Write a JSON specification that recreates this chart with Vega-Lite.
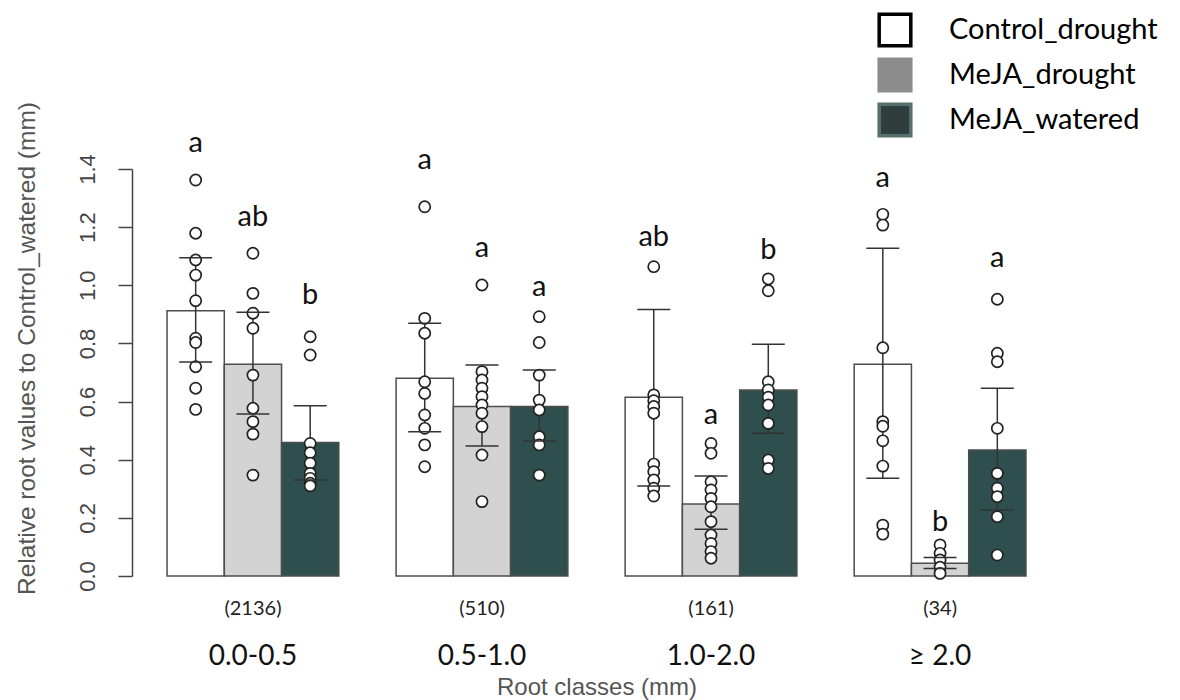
{
  "$schema": "https://vega.github.io/schema/vega-lite/v6.json",
  "width": 929,
  "height": 407,
  "autosize": {"type": "none"},
  "padding": {"left": 132, "top": 169, "right": 119, "bottom": 124},
  "background": "white",
  "config": {"view": {"stroke": null}, "font": "Liberation Sans"},
  "datasets": {
    "bars": [
      {"c": "0.0-0.5", "g": "Control_drought", "mean": 0.912, "lo": 0.736, "hi": 1.095, "letter": "a", "ly": 1.49},
      {"c": "0.0-0.5", "g": "MeJA_drought", "mean": 0.728, "lo": 0.557, "hi": 0.907, "letter": "ab", "ly": 1.236},
      {"c": "0.0-0.5", "g": "MeJA_watered", "mean": 0.459, "lo": 0.33, "hi": 0.586, "letter": "b", "ly": 0.967},
      {"c": "0.5-1.0", "g": "Control_drought", "mean": 0.68, "lo": 0.496, "hi": 0.869, "letter": "a", "ly": 1.43},
      {"c": "0.5-1.0", "g": "MeJA_drought", "mean": 0.583, "lo": 0.447, "hi": 0.726, "letter": "a", "ly": 1.128},
      {"c": "0.5-1.0", "g": "MeJA_watered", "mean": 0.583, "lo": 0.464, "hi": 0.709, "letter": "a", "ly": 0.995},
      {"c": "1.0-2.0", "g": "Control_drought", "mean": 0.615, "lo": 0.31, "hi": 0.917, "letter": "ab", "ly": 1.167},
      {"c": "1.0-2.0", "g": "MeJA_drought", "mean": 0.248, "lo": 0.161, "hi": 0.344, "letter": "a", "ly": 0.554},
      {"c": "1.0-2.0", "g": "MeJA_watered", "mean": 0.64, "lo": 0.491, "hi": 0.797, "letter": "b", "ly": 1.121},
      {"c": "≥ 2.0", "g": "Control_drought", "mean": 0.728, "lo": 0.336, "hi": 1.127, "letter": "a", "ly": 1.368},
      {"c": "≥ 2.0", "g": "MeJA_drought", "mean": 0.044, "lo": 0.026, "hi": 0.064, "letter": "b", "ly": 0.187},
      {"c": "≥ 2.0", "g": "MeJA_watered", "mean": 0.433, "lo": 0.227, "hi": 0.646, "letter": "a", "ly": 1.093}
    ],
    "counts": [
      {"c": "0.0-0.5", "n": "(2136)"},
      {"c": "0.5-1.0", "n": "(510)"},
      {"c": "1.0-2.0", "n": "(161)"},
      {"c": "≥ 2.0", "n": "(34)"}
    ],
    "points": [
      {"c": "0.0-0.5", "g": "Control_drought", "v": 1.362},
      {"c": "0.0-0.5", "g": "Control_drought", "v": 1.179},
      {"c": "0.0-0.5", "g": "Control_drought", "v": 1.087},
      {"c": "0.0-0.5", "g": "Control_drought", "v": 1.035},
      {"c": "0.0-0.5", "g": "Control_drought", "v": 0.947},
      {"c": "0.0-0.5", "g": "Control_drought", "v": 0.818},
      {"c": "0.0-0.5", "g": "Control_drought", "v": 0.803},
      {"c": "0.0-0.5", "g": "Control_drought", "v": 0.72},
      {"c": "0.0-0.5", "g": "Control_drought", "v": 0.646},
      {"c": "0.0-0.5", "g": "Control_drought", "v": 0.573},
      {"c": "0.0-0.5", "g": "MeJA_drought", "v": 1.11},
      {"c": "0.0-0.5", "g": "MeJA_drought", "v": 0.972},
      {"c": "0.0-0.5", "g": "MeJA_drought", "v": 0.904},
      {"c": "0.0-0.5", "g": "MeJA_drought", "v": 0.852},
      {"c": "0.0-0.5", "g": "MeJA_drought", "v": 0.691},
      {"c": "0.0-0.5", "g": "MeJA_drought", "v": 0.577},
      {"c": "0.0-0.5", "g": "MeJA_drought", "v": 0.531},
      {"c": "0.0-0.5", "g": "MeJA_drought", "v": 0.488},
      {"c": "0.0-0.5", "g": "MeJA_drought", "v": 0.347},
      {"c": "0.0-0.5", "g": "MeJA_watered", "v": 0.823},
      {"c": "0.0-0.5", "g": "MeJA_watered", "v": 0.76},
      {"c": "0.0-0.5", "g": "MeJA_watered", "v": 0.456},
      {"c": "0.0-0.5", "g": "MeJA_watered", "v": 0.424},
      {"c": "0.0-0.5", "g": "MeJA_watered", "v": 0.388},
      {"c": "0.0-0.5", "g": "MeJA_watered", "v": 0.353},
      {"c": "0.0-0.5", "g": "MeJA_watered", "v": 0.336},
      {"c": "0.0-0.5", "g": "MeJA_watered", "v": 0.319},
      {"c": "0.0-0.5", "g": "MeJA_watered", "v": 0.31},
      {"c": "0.5-1.0", "g": "Control_drought", "v": 1.27},
      {"c": "0.5-1.0", "g": "Control_drought", "v": 0.886},
      {"c": "0.5-1.0", "g": "Control_drought", "v": 0.835},
      {"c": "0.5-1.0", "g": "Control_drought", "v": 0.668},
      {"c": "0.5-1.0", "g": "Control_drought", "v": 0.628},
      {"c": "0.5-1.0", "g": "Control_drought", "v": 0.554},
      {"c": "0.5-1.0", "g": "Control_drought", "v": 0.508},
      {"c": "0.5-1.0", "g": "Control_drought", "v": 0.451},
      {"c": "0.5-1.0", "g": "Control_drought", "v": 0.376},
      {"c": "0.5-1.0", "g": "MeJA_drought", "v": 1.001},
      {"c": "0.5-1.0", "g": "MeJA_drought", "v": 0.703},
      {"c": "0.5-1.0", "g": "MeJA_drought", "v": 0.674},
      {"c": "0.5-1.0", "g": "MeJA_drought", "v": 0.646},
      {"c": "0.5-1.0", "g": "MeJA_drought", "v": 0.617},
      {"c": "0.5-1.0", "g": "MeJA_drought", "v": 0.588},
      {"c": "0.5-1.0", "g": "MeJA_drought", "v": 0.56},
      {"c": "0.5-1.0", "g": "MeJA_drought", "v": 0.514},
      {"c": "0.5-1.0", "g": "MeJA_drought", "v": 0.416},
      {"c": "0.5-1.0", "g": "MeJA_drought", "v": 0.256},
      {"c": "0.5-1.0", "g": "MeJA_watered", "v": 0.892},
      {"c": "0.5-1.0", "g": "MeJA_watered", "v": 0.803},
      {"c": "0.5-1.0", "g": "MeJA_watered", "v": 0.691},
      {"c": "0.5-1.0", "g": "MeJA_watered", "v": 0.605},
      {"c": "0.5-1.0", "g": "MeJA_watered", "v": 0.571},
      {"c": "0.5-1.0", "g": "MeJA_watered", "v": 0.479},
      {"c": "0.5-1.0", "g": "MeJA_watered", "v": 0.451},
      {"c": "0.5-1.0", "g": "MeJA_watered", "v": 0.347},
      {"c": "1.0-2.0", "g": "Control_drought", "v": 1.064},
      {"c": "1.0-2.0", "g": "Control_drought", "v": 0.623},
      {"c": "1.0-2.0", "g": "Control_drought", "v": 0.603},
      {"c": "1.0-2.0", "g": "Control_drought", "v": 0.583},
      {"c": "1.0-2.0", "g": "Control_drought", "v": 0.56},
      {"c": "1.0-2.0", "g": "Control_drought", "v": 0.385},
      {"c": "1.0-2.0", "g": "Control_drought", "v": 0.359},
      {"c": "1.0-2.0", "g": "Control_drought", "v": 0.33},
      {"c": "1.0-2.0", "g": "Control_drought", "v": 0.302},
      {"c": "1.0-2.0", "g": "Control_drought", "v": 0.275},
      {"c": "1.0-2.0", "g": "MeJA_drought", "v": 0.456},
      {"c": "1.0-2.0", "g": "MeJA_drought", "v": 0.422},
      {"c": "1.0-2.0", "g": "MeJA_drought", "v": 0.324},
      {"c": "1.0-2.0", "g": "MeJA_drought", "v": 0.296},
      {"c": "1.0-2.0", "g": "MeJA_drought", "v": 0.267},
      {"c": "1.0-2.0", "g": "MeJA_drought", "v": 0.238},
      {"c": "1.0-2.0", "g": "MeJA_drought", "v": 0.187},
      {"c": "1.0-2.0", "g": "MeJA_drought", "v": 0.141},
      {"c": "1.0-2.0", "g": "MeJA_drought", "v": 0.112},
      {"c": "1.0-2.0", "g": "MeJA_drought", "v": 0.084},
      {"c": "1.0-2.0", "g": "MeJA_drought", "v": 0.061},
      {"c": "1.0-2.0", "g": "MeJA_watered", "v": 1.022},
      {"c": "1.0-2.0", "g": "MeJA_watered", "v": 0.981},
      {"c": "1.0-2.0", "g": "MeJA_watered", "v": 0.668},
      {"c": "1.0-2.0", "g": "MeJA_watered", "v": 0.64},
      {"c": "1.0-2.0", "g": "MeJA_watered", "v": 0.615},
      {"c": "1.0-2.0", "g": "MeJA_watered", "v": 0.588},
      {"c": "1.0-2.0", "g": "MeJA_watered", "v": 0.525},
      {"c": "1.0-2.0", "g": "MeJA_watered", "v": 0.399},
      {"c": "1.0-2.0", "g": "MeJA_watered", "v": 0.37},
      {"c": "≥ 2.0", "g": "Control_drought", "v": 1.244},
      {"c": "≥ 2.0", "g": "Control_drought", "v": 1.207},
      {"c": "≥ 2.0", "g": "Control_drought", "v": 0.785},
      {"c": "≥ 2.0", "g": "Control_drought", "v": 0.531},
      {"c": "≥ 2.0", "g": "Control_drought", "v": 0.515},
      {"c": "≥ 2.0", "g": "Control_drought", "v": 0.465},
      {"c": "≥ 2.0", "g": "Control_drought", "v": 0.378},
      {"c": "≥ 2.0", "g": "Control_drought", "v": 0.175},
      {"c": "≥ 2.0", "g": "Control_drought", "v": 0.144},
      {"c": "≥ 2.0", "g": "MeJA_drought", "v": 0.107},
      {"c": "≥ 2.0", "g": "MeJA_drought", "v": 0.078},
      {"c": "≥ 2.0", "g": "MeJA_drought", "v": 0.055},
      {"c": "≥ 2.0", "g": "MeJA_drought", "v": 0.03},
      {"c": "≥ 2.0", "g": "MeJA_drought", "v": 0.009},
      {"c": "≥ 2.0", "g": "MeJA_watered", "v": 0.952},
      {"c": "≥ 2.0", "g": "MeJA_watered", "v": 0.766},
      {"c": "≥ 2.0", "g": "MeJA_watered", "v": 0.737},
      {"c": "≥ 2.0", "g": "MeJA_watered", "v": 0.508},
      {"c": "≥ 2.0", "g": "MeJA_watered", "v": 0.353},
      {"c": "≥ 2.0", "g": "MeJA_watered", "v": 0.302},
      {"c": "≥ 2.0", "g": "MeJA_watered", "v": 0.273},
      {"c": "≥ 2.0", "g": "MeJA_watered", "v": 0.204},
      {"c": "≥ 2.0", "g": "MeJA_watered", "v": 0.072}
    ]
  },
  "encoding": {
    "x": {
      "field": "c",
      "type": "nominal",
      "sort": null,
      "scale": {"domain": ["0.0-0.5", "0.5-1.0", "1.0-2.0", "≥ 2.0"], "paddingInner": 0.25, "paddingOuter": 0.153},
      "axis": {
        "title": "Root classes (mm)",
        "domain": false,
        "ticks": false,
        "tickSize": 0,
        "labelAngle": 0,
        "labelFont": "Lato",
        "labelFontSize": 28,
        "labelColor": "#111111",
        "labelBaseline": "middle",
        "labelPadding": 80,
        "titleFont": "Liberation Sans",
        "titleFontSize": 24,
        "titleFontWeight": "normal",
        "titleColor": "#555555",
        "titleY": 111,
        "titleBaseline": "middle"
      }
    }
  },
  "layer": [
    {
      "data": {"name": "bars"},
      "mark": {"type": "bar", "stroke": "#4d4d4d", "strokeWidth": 1.5},
      "encoding": {
        "xOffset": {"field": "g", "type": "nominal", "sort": null, "scale": {"domain": ["Control_drought", "MeJA_drought", "MeJA_watered"], "paddingInner": 0, "paddingOuter": 0}},
        "y": {
          "field": "mean",
          "type": "quantitative",
          "title": "Relative root values to Control_watered (mm)",
          "scale": {"domain": [0, 1.4], "nice": false, "zero": true},
          "axis": {
            "title": "Relative root values to Control_watered (mm)",
            "values": [0, 0.2, 0.4, 0.6, 0.8, 1.0, 1.2, 1.4],
            "format": ".1f",
            "grid": false,
            "domainColor": "#444444",
            "domainWidth": 1.5,
            "tickColor": "#444444",
            "tickWidth": 1.5,
            "tickSize": 14,
            "labelAngle": -90,
            "labelAlign": "center",
            "labelBaseline": "middle",
            "labelPadding": 31,
            "labelOverlap": false,
            "labelFont": "Liberation Sans",
            "labelFontSize": 22,
            "labelColor": "#444444",
            "titleFont": "Liberation Sans",
            "titleFontSize": 24.5,
            "titleFontWeight": "normal",
            "titleColor": "#555555",
            "titleX": -105,
            "titleY": 179,
            "titleAngle": -90,
            "titleAlign": "center",
            "titleBaseline": "middle"
          }
        },
        "fill": {
          "field": "g",
          "type": "nominal",
          "scale": {"range": ["#ffffff", "#d3d3d3", "#2f4f4f"]},
          "legend": null
        }
      }
    },
    {
      "data": {"name": "bars"},
      "mark": {"type": "square", "filled": true, "opacity": 0},
      "encoding": {
        "y": {"field": "mean", "type": "quantitative", "title": "Relative root values to Control_watered (mm)"},
        "color": {
          "field": "g",
          "type": "nominal",
          "scale": {"domain": ["Control_drought", "MeJA_drought", "MeJA_watered"], "range": ["#ffffff", "#8c8c8c", "#2f3e3d"]},
          "legend": {
            "title": null,
            "orient": "none",
            "legendX": 745,
            "legendY": -157,
            "padding": 0,
            "symbolType": "square",
            "symbolSize": 1000,
            "symbolStrokeWidth": 3.5,
            "symbolOpacity": 1,
            "labelFont": "Lato",
            "labelFontSize": 29,
            "labelColor": "#000000",
            "labelOffset": 36,
            "labelLimit": 400,
            "rowPadding": -1
          }
        },
        "stroke": {
          "field": "g",
          "type": "nominal",
          "scale": {"domain": ["Control_drought", "MeJA_drought", "MeJA_watered"], "range": ["#000000", "#8c8c8c", "#55706e"]},
          "legend": {
            "title": null,
            "orient": "none",
            "legendX": 745,
            "legendY": -157,
            "padding": 0,
            "symbolType": "square",
            "symbolSize": 1000,
            "symbolStrokeWidth": 3.5,
            "symbolOpacity": 1,
            "labelFont": "Lato",
            "labelFontSize": 29,
            "labelColor": "#000000",
            "labelOffset": 36,
            "labelLimit": 400,
            "rowPadding": -1
          }
        }
      }
    },
    {
      "data": {"name": "bars"},
      "mark": {"type": "rule", "color": "#333333", "strokeWidth": 1.5},
      "encoding": {
        "xOffset": {"field": "g", "type": "nominal", "sort": null},
        "y": {"field": "lo", "type": "quantitative", "title": "Relative root values to Control_watered (mm)"},
        "y2": {"field": "hi"}
      }
    },
    {
      "data": {"name": "points"},
      "mark": {"type": "point", "shape": "circle", "filled": true, "fill": "#ffffff", "stroke": "#222222", "strokeWidth": 1.7, "size": 125, "opacity": 1},
      "encoding": {
        "xOffset": {"field": "g", "type": "nominal", "sort": null},
        "y": {"field": "v", "type": "quantitative", "title": "Relative root values to Control_watered (mm)"}
      }
    },
    {
      "data": {"name": "bars"},
      "mark": {"type": "tick", "size": 33, "thickness": 1.5, "color": "#333333", "opacity": 1},
      "encoding": {
        "xOffset": {"field": "g", "type": "nominal", "sort": null},
        "y": {"field": "lo", "type": "quantitative", "title": "Relative root values to Control_watered (mm)"}
      }
    },
    {
      "data": {"name": "bars"},
      "mark": {"type": "tick", "size": 33, "thickness": 1.5, "color": "#333333", "opacity": 1},
      "encoding": {
        "xOffset": {"field": "g", "type": "nominal", "sort": null},
        "y": {"field": "hi", "type": "quantitative", "title": "Relative root values to Control_watered (mm)"}
      }
    },
    {
      "data": {"name": "bars"},
      "mark": {"type": "text", "font": "Lato", "fontSize": 29, "baseline": "middle", "align": "center", "color": "#111111"},
      "encoding": {
        "xOffset": {"field": "g", "type": "nominal", "sort": null},
        "y": {"field": "ly", "type": "quantitative", "title": "Relative root values to Control_watered (mm)"},
        "text": {"field": "letter"}
      }
    },
    {
      "data": {"name": "counts"},
      "mark": {"type": "text", "font": "Lato", "fontSize": 20, "baseline": "middle", "align": "center", "color": "#222222"},
      "encoding": {
        "y": {"datum": -0.115, "type": "quantitative"},
        "text": {"field": "n"}
      }
    }
  ]
}
